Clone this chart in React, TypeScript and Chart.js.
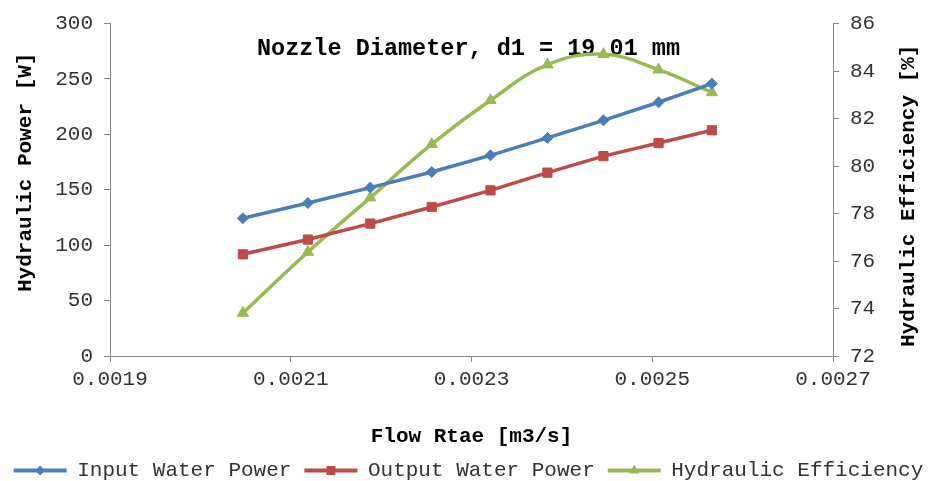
import React, { useEffect, useRef } from 'react';
import { Chart, registerables } from 'chart.js';

Chart.register(...registerables);

// ---- data ----
const flowRate = [0.002047, 0.002119, 0.002188, 0.002256, 0.002321, 0.002384, 0.002446, 0.002507, 0.002566];
const inputPower = [124.3, 138.1, 152.0, 166.1, 181.1, 196.8, 212.7, 229.0, 245.8];
const outputPower = [91.8, 105.1, 119.5, 134.5, 149.5, 165.5, 180.4, 192.2, 203.7];
const efficiency = [73.81, 76.38, 78.67, 80.92, 82.77, 84.27, 84.71, 84.06, 83.1];

const seriesNames = ['Input Water Power', 'Output Water Power', 'Hydraulic Efficiency'];
const chartTitle = 'Nozzle Diameter, d1 = 19.01 mm';
const xTitle = 'Flow Rtae [m3/s]';
const yLeftTitle = 'Hydraulic Power [W]';
const yRightTitle = 'Hydraulic Efficiency [%]';

const MONO = "'Liberation Mono', 'Courier New', monospace";
const BLUE = '#4A7EBB';
const RED = '#BE4B48';
const GREEN = '#98B954';
const AXIS = '#868686';
const TEXT = '#333333';

const markerStyles = ['rectRot', 'rect', 'triangle'];
const markerColors = [BLUE, RED, GREEN];

function drawMarker(ctx: CanvasRenderingContext2D, style: string, x: number, y: number, color: string) {
  ctx.save();
  ctx.fillStyle = color;
  ctx.beginPath();
  if (style === 'rectRot') {
    const r = 5;
    ctx.moveTo(x, y - r);
    ctx.lineTo(x + r, y);
    ctx.lineTo(x, y + r);
    ctx.lineTo(x - r, y);
  } else if (style === 'rect') {
    const h = 4.5;
    ctx.rect(x - h, y - h, 2 * h, 2 * h);
  } else {
    const r = 6;
    ctx.moveTo(x, y - r);
    ctx.lineTo(x + r * 0.866, y + r * 0.5);
    ctx.lineTo(x - r * 0.866, y + r * 0.5);
  }
  ctx.closePath();
  ctx.fill();
  ctx.restore();
}

const legendMarkers = {
  id: 'legendMarkers',
  afterDraw(chart: any) {
    const legend = chart.legend;
    if (!legend || !legend.legendHitBoxes) return;
    const ctx = chart.ctx as CanvasRenderingContext2D;
    const boxWidth = legend.options.labels.boxWidth;
    const fontSize = legend.options.labels.font.size;
    legend.legendHitBoxes.forEach((hb: any, i: number) => {
      drawMarker(ctx, markerStyles[i], hb.left + boxWidth / 2, hb.top + fontSize / 2, markerColors[i]);
    });
  },
};

const axisTitles = {
  id: 'axisTitles',
  afterDraw(chart: any) {
    const ctx = chart.ctx as CanvasRenderingContext2D;
    const area = chart.chartArea;
    ctx.save();
    ctx.font = `bold 21px ${MONO}`;
    ctx.fillStyle = '#000000';
    ctx.textBaseline = 'middle';
    ctx.textAlign = 'left';
    ctx.save();
    ctx.translate(26, area.bottom - 64);
    ctx.rotate(-Math.PI / 2);
    ctx.fillText(yLeftTitle, 0, 0);
    ctx.restore();
    ctx.save();
    ctx.translate(909, area.bottom - 9);
    ctx.rotate(-Math.PI / 2);
    ctx.fillText(yRightTitle, 0, 0);
    ctx.restore();
    ctx.restore();
  },
};

export default function App() {
  const canvasRef = useRef<HTMLCanvasElement | null>(null);

  useEffect(() => {
    document.body.style.margin = '0';
    const canvas = canvasRef.current;
    if (!canvas) return;

    const mk = (arr: number[]) => arr.map((v, i) => ({ x: flowRate[i], y: v }));

    const chart = new Chart(canvas, {
      type: 'line',
      data: {
        datasets: [
          {
            label: seriesNames[0],
            data: mk(inputPower),
            borderColor: BLUE,
            backgroundColor: BLUE,
            pointBackgroundColor: BLUE,
            pointBorderColor: BLUE,
            pointStyle: 'rectRot',
            pointRadius: 5.5,
            pointBorderWidth: 1,
            borderWidth: 3.5,
            tension: 0,
            yAxisID: 'y',
          },
          {
            label: seriesNames[1],
            data: mk(outputPower),
            borderColor: RED,
            backgroundColor: RED,
            pointBackgroundColor: RED,
            pointBorderColor: RED,
            pointStyle: 'rect',
            pointRadius: 6.5,
            pointBorderWidth: 1,
            borderWidth: 3.5,
            tension: 0,
            yAxisID: 'y',
          },
          {
            label: seriesNames[2],
            data: mk(efficiency),
            borderColor: GREEN,
            backgroundColor: GREEN,
            pointBackgroundColor: GREEN,
            pointBorderColor: GREEN,
            pointStyle: 'triangle',
            pointRadius: 6.5,
            pointBorderWidth: 1,
            borderWidth: 3.5,
            tension: 0.4,
            yAxisID: 'y1',
          },
        ],
      },
      options: {
        responsive: false,
        animation: false,
        devicePixelRatio: 1,
        layout: { padding: { top: 23, bottom: -10, left: 0, right: 0 } },
        plugins: {
          title: {
            display: true,
            text: chartTitle,
            color: '#000000',
            font: { family: MONO, size: 23.5, weight: 'bold', lineHeight: 1.2 },
            padding: { top: 11, bottom: -39.2 },
          },
          legend: {
            display: true,
            position: 'bottom',
            labels: {
              font: { family: MONO, size: 21 },
              color: TEXT,
              boxWidth: 53,
              boxHeight: 4,
              padding: 13,
              generateLabels: (c: any) =>
                (Chart.defaults.plugins.legend.labels as any)
                  .generateLabels(c)
                  .map((l: any) => ({ ...l, lineWidth: 0, fillStyle: l.strokeStyle })),
            },
          },
          tooltip: { enabled: false },
        },
        scales: {
          x: {
            type: 'linear',
            position: 'bottom',
            min: 0.0019,
            max: 0.0027,
            afterFit: (s: any) => {
              s.height = 91;
            },
            ticks: {
              stepSize: 0.0002,
              color: TEXT,
              font: { family: MONO, size: 21 },
              padding: 5,
              maxRotation: 0,
              autoSkip: false,
              callback: (v: any) => Number(v).toFixed(4),
            },
            grid: { display: true, drawOnChartArea: false, drawTicks: true, tickLength: 6, color: AXIS },
            border: { display: true, color: AXIS, width: 1 },
            title: { display: true, text: xTitle, color: '#000000', font: { family: MONO, size: 21, weight: 'bold', lineHeight: 1 }, padding: { top: 0, bottom: 0 } },
          },
          y: {
            type: 'linear',
            position: 'left',
            min: 0,
            max: 300,
            afterFit: (s: any) => {
              s.width = 110;
            },
            ticks: { stepSize: 50, color: TEXT, font: { family: MONO, size: 21 }, padding: 11 },
            grid: { display: true, drawOnChartArea: false, drawTicks: true, tickLength: 6, color: AXIS },
            border: { display: true, color: AXIS, width: 1 },
            title: { display: false, text: yLeftTitle },
          },
          y1: {
            type: 'linear',
            position: 'right',
            min: 72,
            max: 86,
            afterFit: (s: any) => {
              s.width = 104;
            },
            ticks: { stepSize: 2, color: TEXT, font: { family: MONO, size: 21 }, padding: 11 },
            grid: { display: true, drawOnChartArea: false, drawTicks: true, tickLength: 6, color: AXIS },
            border: { display: true, color: AXIS, width: 1 },
            title: { display: false, text: yRightTitle },
          },
        },
      } as any,
      plugins: [legendMarkers, axisTitles],
    });

    return () => {
      chart.destroy();
    };
  }, []);

  return (
    <div style={{ width: 937, height: 481, position: 'relative' }}>
      <canvas ref={canvasRef} width={937} height={481} style={{ display: 'block' }} />
    </div>
  );
}
